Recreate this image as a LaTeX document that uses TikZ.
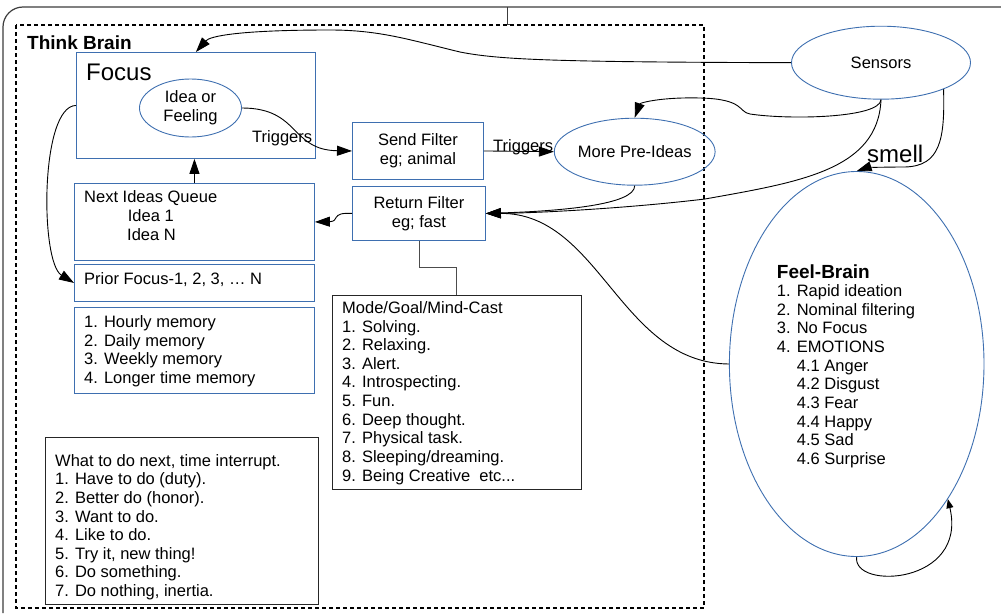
\documentclass[tikz,border=0pt]{standalone}
\usepackage{fontspec}
\setmainfont{Liberation Sans}
\usetikzlibrary{arrows.meta,shapes.geometric}
\definecolor{boxblue}{RGB}{62,111,176}
\definecolor{framegray}{RGB}{60,60,60}

\begin{document}
\begin{tikzpicture}[x=1pt,y=-1pt,
    every node/.style={font=\fontsize{16.5}{18.65}\selectfont, inner sep=0pt},
    bluebox/.style={draw=boxblue, line width=0.9pt, rectangle, anchor=north west},
    blackbox/.style={draw=black!85, line width=0.9pt, rectangle, anchor=north west},
    blueoval/.style={draw=boxblue, line width=0.9pt, ellipse, align=center},
    listtxt/.style={anchor=base west, align=left},
    arr/.style={-{Triangle[length=15pt,width=10pt]}, line width=0.9pt},
    smallarr/.style={-{Triangle[length=9pt,width=7pt]}, line width=0.9pt}]
    \useasboundingbox (0,0) rectangle (1001,613);

    \draw[framegray, line width=1.2pt, rounded corners=20pt] (3,613) -- (3,7) -- (1001,7);
    \draw[framegray, line width=1pt] (507,7) -- (507,24) -- (513,24);
    \draw[black, line width=1.6pt, dash pattern=on 4pt off 3pt] (16,25) rectangle (704,608);

    \node[bluebox, minimum width=239pt, minimum height=106pt] (focus) at (76,52) {};
    \node[blueoval, minimum width=102pt, minimum height=58pt] (idea) at (190.5,108) {Idea or\\Feeling};
    \node[bluebox, minimum width=240pt, minimum height=77pt] (nextq) at (74,183) {};
    \node[bluebox, minimum width=240pt, minimum height=37pt] (prior) at (74,264) {};
    \node[bluebox, minimum width=240pt, minimum height=86pt] (memory) at (74,307) {};
    \node[bluebox, minimum width=131pt, minimum height=57pt, align=center] (sendf) at (352,122) {Send Filter\\eg; animal};
    \node[bluebox, minimum width=133pt, minimum height=54pt, align=center] (retf) at (352,186) {Return Filter\\eg; fast};
    \node[blackbox, minimum width=249pt, minimum height=194pt] (mode) at (332,295) {};
    \node[blackbox, minimum width=273pt, minimum height=167pt] (todo) at (45,437) {};
    \node[blueoval, minimum width=129pt, minimum height=67pt] (preideas) at (634.7,151.7) {More Pre-Ideas};
    \node[blueoval, minimum width=179pt, minimum height=73pt] (sensors) at (881,62.7) {Sensors};
    \node[blueoval, minimum width=254.6pt, minimum height=385pt] (feel) at (856.7,364) {};

    \node[anchor=base west, font=\bfseries\fontsize{19}{22}\selectfont] (thinklbl) at (27,49) {Think Brain};
    \node[anchor=base west, font=\fontsize{24}{28}\selectfont] (focuslbl) at (86,80) {Focus};
    \node[listtxt] (nexttxt) at (84,240) {Next Ideas Queue\\\hspace*{43.7pt}Idea 1\\\hspace*{43pt}Idea N};
    \node[listtxt] (priortxt) at (84,284) {Prior Focus-1, 2, 3, … N};
    \node[listtxt] (memtxt) at (84,383.3) {1. Hourly memory\\2. Daily memory\\3. Weekly memory\\4. Longer time memory};
    \node[listtxt] (modetxt) at (342,481.2) {Mode/Goal/Mind-Cast\\1. Solving.\\2. Relaxing.\\3. Alert.\\4. Introspecting.\\5. Fun.\\6. Deep thought.\\7. Physical task.\\8. Sleeping/dreaming.\\9. Being Creative\ \ etc...};
    \node[listtxt] (todotxt) at (55,596.6) {What to do next, time interrupt.\\1. Have to do (duty).\\2. Better do (honor).\\3. Want to do.\\4. Like to do.\\5. Try it, new thing!\\6. Do something.\\7. Do nothing, inertia.};
    \node[listtxt] (feeltxt) at (776.7,464.5) {{\bfseries\fontsize{19}{22}\selectfont Feel-Brain}\\1. Rapid ideation\\2. Nominal filtering\\3. No Focus\\4. EMOTIONS\\\hspace*{20pt}4.1 Anger\\\hspace*{20pt}4.2 Disgust\\\hspace*{20pt}4.3 Fear\\\hspace*{20pt}4.4 Happy\\\hspace*{20pt}4.5 Sad\\\hspace*{20pt}4.6 Surprise};
    \node[anchor=base west] (trig1) at (252,142) {Triggers};
    \node[anchor=base west] (trig2) at (493,151.5) {Triggers};
    \node[anchor=base west, font=\fontsize{24}{28}\selectfont] (smelltxt) at (867,162) {smell};

    \draw[arr] (sensors.west) .. controls (560,62) and (500,60) .. (460,52) .. controls (410,40) and (380,30) .. (330,30) .. controls (240,30) and (210,36) .. (focus.north);
    \draw[arr] (sensors.south) .. controls (880,118) and (790,120) .. (750,114) .. controls (738,112) and (745,99) .. (700,98) .. controls (660,97) and (640,103) .. (preideas.north);
    \draw[arr] (sensors.south) .. controls (878,170) and (800,182) .. (705,199) .. controls (630,208) and (540,213) .. (retf.east);
    \draw[arr] (sensors.-23) .. controls (945,140) and (940,166) .. (905,167) .. controls (880,167) and (866,168) .. (feel.north);
    \draw[arr] (preideas.south) .. controls (635,205) and (560,211) .. (retf.east);
    \draw[arr] (feel.west) .. controls (620,363) and (600,213) .. (retf.east);
    \draw[smallarr] (feel.south) .. controls (852,590) and (968,585) .. (feel.-56);
    \draw[arr] (idea.east) .. controls (300,108) and (290,150) .. (sendf.west);
    \draw[arr] (sendf.east) -- (preideas.west);
    \draw[arr] (retf.west) .. controls (330,212) and (340,221.5) .. (nextq.east);
    \draw[arr] (nextq.north) -- (nextq.north |- focus.south);
    \draw[arr] (focus.west) .. controls (40,106) and (40,262) .. (prior.west);
    \draw[black!70, line width=0.9pt] (retf.south) -- ++(0,27) -| (456,295);
\end{tikzpicture}
\end{document}
